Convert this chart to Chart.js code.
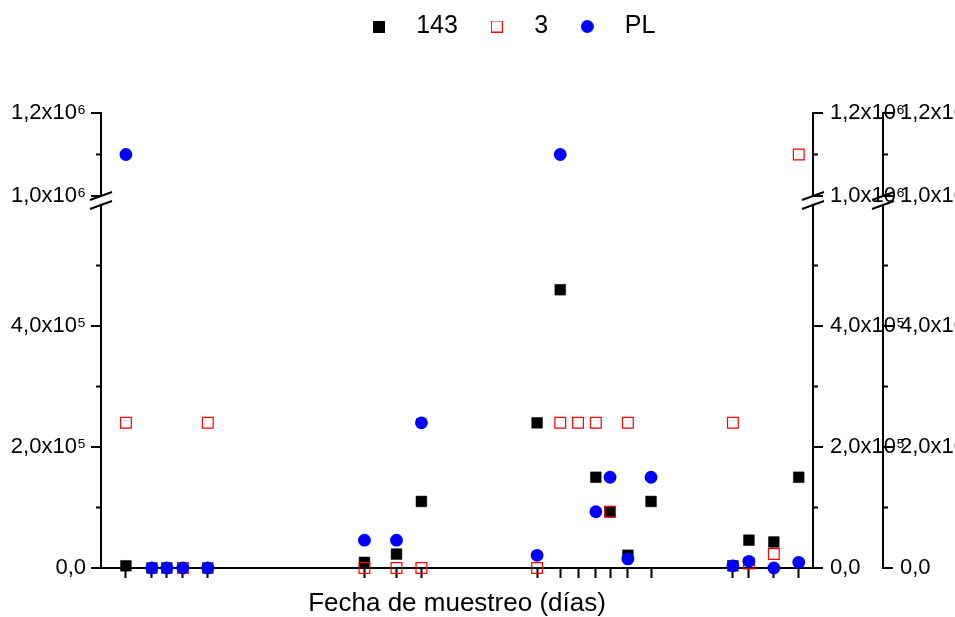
<!DOCTYPE html>
<html>
<head>
<meta charset="utf-8">
<title>Fecha de muestreo</title>
<script src="https://cdn.jsdelivr.net/npm/chart.js@4.4.1/dist/chart.umd.min.js"></script>
<style>
  html, body { margin: 0; padding: 0; background: #fff; }
  canvas { display: block; }
</style>
</head>
<body>
<canvas id="chart" width="955" height="617"></canvas>
<script>
// sampling days (x); every sample has a tick on the x axis
const DAYS = [7, 14.3, 18.5, 23, 30, 74, 83, 90, 122.5, 129, 134, 139, 143, 148, 154.5, 177.5, 182, 189, 196];

// one value per day, null = no point
const SERIES_143 = [3.6e3, 0, 0, null, 0, 9.3e3, 2.3e4, 1.1e5, 2.4e5, 4.6e5, null, 1.5e5, 9.3e4, 2.1e4, 1.1e5, 3.6e3, 4.6e4, 4.3e4, 1.5e5];
const SERIES_3 = [2.4e5, null, null, 0, 2.4e5, 0, 0, 0, 0, 2.4e5, 2.4e5, 2.4e5, 9.3e4, 2.4e5, null, 2.4e5, 7.5e3, 2.3e4, 1.1e6];
const SERIES_PL = [1.1e6, 0, 0, 0, 0, 4.6e4, 4.6e4, 2.4e5, 2.1e4, 1.1e6, null, 9.3e4, 1.5e5, 1.5e4, 1.5e5, 3.6e3, 1.1e4, 0, 9.3e3];
const SERIES_NAMES = ['143', '3', 'PL'];

// broken y axis: 0..6e5 under the break, 1e6..1.2e6 above it
const Y_TICKS = [0, 1e5, 2e5, 3e5, 4e5, 5e5, 1e6, 1.1e6, 1.2e6];
const Y_TICK_LABELS = ['0,0', '', '2,0x10⁵', '', '4,0x10⁵', '', '1,0x10⁶', '', '1,2x10⁶'];
const LOW_MAX = 6e5;
const HIGH_MIN = 1e6;
const HIGH_MAX = 1.2e6;
const X_MIN = 0;
const X_MAX = 200;
const X_TITLE = 'Fecha de muestreo (días)';

// layout
const FONT = 'Arial, "Liberation Sans", sans-serif';
const BREAK_DEC = [0.6994, 0.7168, 0.8767]; // share of plot height: top of low part, bottom and top of high part
const LEGEND_OFFSET = 27;

Chart.defaults.font.family = FONT;
Chart.defaults.color = '#000';

class BrokenLinearScale extends Chart.LinearScale {
  buildTicks() {
    this.start = this.min;
    this.end = this.max;
    return Y_TICKS.map((v) => ({ value: v }));
  }
  toDecimal(v) {
    if (v <= LOW_MAX) return (v / LOW_MAX) * BREAK_DEC[0];
    if (v >= HIGH_MIN) return BREAK_DEC[1] + ((v - HIGH_MIN) / (HIGH_MAX - HIGH_MIN)) * (BREAK_DEC[2] - BREAK_DEC[1]);
    return BREAK_DEC[0] + ((v - LOW_MAX) / (HIGH_MIN - LOW_MAX)) * (BREAK_DEC[1] - BREAK_DEC[0]);
  }
  getPixelForValue(v) {
    if (v === null || v === undefined || isNaN(v)) return NaN;
    return this.getPixelForDecimal(this.toDecimal(v));
  }
  getValueForPixel(p) {
    const d = this.getDecimalForPixel(p);
    if (d <= BREAK_DEC[0]) return (d / BREAK_DEC[0]) * LOW_MAX;
    if (d >= BREAK_DEC[1]) return HIGH_MIN + ((d - BREAK_DEC[1]) / (BREAK_DEC[2] - BREAK_DEC[1])) * (HIGH_MAX - HIGH_MIN);
    return LOW_MAX + ((d - BREAK_DEC[0]) / (BREAK_DEC[1] - BREAK_DEC[0])) * (HIGH_MIN - LOW_MAX);
  }
}
BrokenLinearScale.id = 'brokenLinear';
BrokenLinearScale.defaults = Chart.LinearScale.defaults;
Chart.register(BrokenLinearScale);

function points(values) {
  return DAYS.map((d, i) => ({ x: d, y: values[i] })).filter((p) => p.y !== null);
}

function makeIcon(size, draw) {
  const c = document.createElement('canvas');
  c.width = size;
  c.height = size;
  draw(c.getContext('2d'), size);
  return c;
}

const LEGEND_ICONS = [
  makeIcon(12, (g, s) => { g.fillStyle = '#000'; g.fillRect(0, 0, s, s); }),
  makeIcon(12, (g, s) => { g.strokeStyle = '#ff0000'; g.lineWidth = 1; g.strokeRect(0.5, 0.5, s - 1, s - 1); }),
  makeIcon(13, (g, s) => { g.fillStyle = '#0000ff'; g.beginPath(); g.arc(s / 2, s / 2, s / 2, 0, Math.PI * 2); g.fill(); }),
];

function yAxis(position, weight, width) {
  return {
    type: 'brokenLinear',
    axis: 'y',
    position,
    weight,
    min: 0,
    max: HIGH_MAX,
    afterFit: (s) => { s.width = width; },
    grid: { display: false, drawTicks: false },
    border: { display: false },
    ticks: {
      autoSkip: false,
      padding: position === 'left' ? 15 : 17,
      font: { size: 22 },
      color: '#000',
      callback: (v) => Y_TICK_LABELS[Y_TICKS.indexOf(v)],
    },
  };
}

// axis lines, major/minor ticks and the // break marks on every y axis
const brokenAxes = {
  id: 'brokenAxes',
  beforeDatasetsDraw(chart) {
    const ctx = chart.ctx;
    const line = (x1, y1, x2, y2) => { ctx.beginPath(); ctx.moveTo(x1, y1); ctx.lineTo(x2, y2); ctx.stroke(); };
    ctx.save();
    ctx.strokeStyle = '#000';
    ctx.lineWidth = 2;
    ['y', 'yr1', 'yr2'].forEach((id) => {
      const s = chart.scales[id];
      const onLeft = s.position === 'left';
      const x = onLeft ? s.right : s.left;
      const dir = onLeft ? -1 : 1;
      line(x, s.getPixelForValue(0) + 1, x, s.getPixelForValue(LOW_MAX));
      line(x, s.getPixelForValue(HIGH_MIN), x, s.getPixelForValue(HIGH_MAX) - 1);
      s.ticks.forEach((t) => {
        const y = s.getPixelForValue(t.value);
        const len = Y_TICK_LABELS[Y_TICKS.indexOf(t.value)] ? 10 : 5;
        line(x, y, x + dir * len, y);
      });
      [LOW_MAX, HIGH_MIN].forEach((v) => {
        const y = s.getPixelForValue(v);
        line(x - 11, y + 4, x + 11, y - 4);
      });
    });
    ctx.restore();
  },
};

// legend sits a little right of centre; the inner right axis labels run over the outer axis
const layoutTweaks = {
  id: 'layoutTweaks',
  afterLayout(chart) {
    chart.legend.left += LEGEND_OFFSET;
    chart.legend.right += LEGEND_OFFSET;
    chart.scales.yr1.right = chart.width;
  },
};

new Chart(document.getElementById('chart'), {
  type: 'scatter',
  data: {
    datasets: [
      {
        label: SERIES_NAMES[0], data: points(SERIES_143), order: 3, clip: false,
        pointStyle: 'rect', pointRadius: 7.6, backgroundColor: '#000', borderColor: '#000', borderWidth: 0.5,
      },
      {
        label: SERIES_NAMES[1], data: points(SERIES_3), order: 2, clip: false,
        pointStyle: 'rect', pointRadius: 7.6, backgroundColor: 'rgba(0,0,0,0)', borderColor: '#ff0000', borderWidth: 1.2,
      },
      {
        label: SERIES_NAMES[2], data: points(SERIES_PL), order: 1, clip: false,
        pointStyle: 'circle', pointRadius: 6.4, backgroundColor: '#0000ff', borderColor: '#0000ff', borderWidth: 0,
      },
    ],
  },
  options: {
    responsive: false,
    animation: false,
    events: [],
    layout: { padding: 0 },
    plugins: {
      tooltip: { enabled: false },
      legend: {
        position: 'top',
        labels: {
          usePointStyle: true,
          pointStyleWidth: 50,
          padding: 14,
          font: { size: 25 },
          color: '#000',
          sort: (a, b) => a.datasetIndex - b.datasetIndex,
          generateLabels(chart) {
            const items = Chart.defaults.plugins.legend.labels.generateLabels(chart);
            items.forEach((it) => { it.pointStyle = LEGEND_ICONS[it.datasetIndex]; });
            return items;
          },
        },
      },
    },
    scales: {
      x: {
        type: 'linear',
        min: X_MIN,
        max: X_MAX,
        afterBuildTicks: (s) => { s.ticks = DAYS.map((v) => ({ value: v })); },
        afterFit: (s) => { s.height = 49; },
        ticks: { display: false },
        grid: { display: true, drawOnChartArea: false, drawTicks: true, tickLength: 10, tickWidth: 2, tickColor: '#000' },
        border: { display: true, color: '#000', width: 2 },
        title: { display: true, text: X_TITLE, font: { size: 26, lineHeight: 1 }, color: '#000', padding: { top: 0, bottom: 0 } },
      },
      y: yAxis('left', 0, 101),
      yr1: yAxis('right', 1, 70),
      yr2: yAxis('right', 2, 72),
    },
  },
  plugins: [brokenAxes, layoutTweaks],
});
</script>
</body>
</html>
